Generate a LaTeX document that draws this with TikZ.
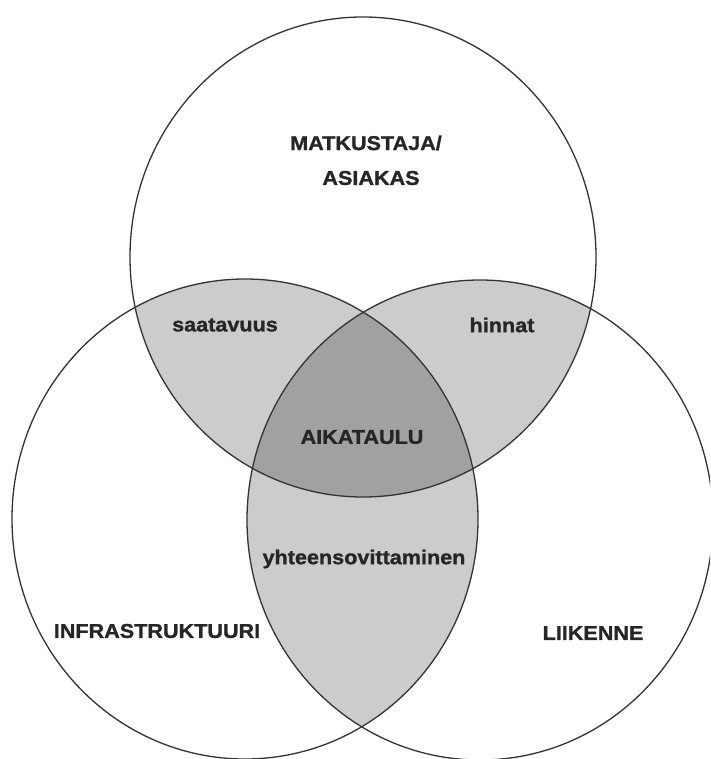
\documentclass[tikz,border=0pt]{standalone}
\usepackage{fontspec}
\newfontfamily\labelfont[FakeStretch=1.08,FakeBold=1.2]{Liberation Sans Bold}
\begin{document}
\begin{tikzpicture}[x=1pt,y=-1pt,
  ring/.style={draw=black!80,line width=1.3pt},
  pairfill/.style={fill=black!20},
  corefill/.style={fill=black!37},
  lbl/.style={font=\labelfont\fontsize{20}{24}\selectfont,text=black!85,inner sep=0pt,align=center}]
  \useasboundingbox (0,0) rectangle (710,759);
  \clip (0,0) rectangle (710,759);
  \fill[white] (0,0) rectangle (710,759);
  % centres of the three sets
  \coordinate (T) at (363,257);
  \coordinate (L) at (245,519);
  \coordinate (R) at (480,520);
  \def\rx{233pt}\def\ry{240pt}
  % pairwise overlaps
  \begin{scope}
    \clip (T) ellipse [x radius=\rx,y radius=\ry];
    \fill[pairfill] (L) ellipse [x radius=\rx,y radius=\ry];
    \fill[pairfill] (R) ellipse [x radius=\rx,y radius=\ry];
  \end{scope}
  \begin{scope}
    \clip (L) ellipse [x radius=\rx,y radius=\ry];
    \fill[pairfill] (R) ellipse [x radius=\rx,y radius=\ry];
  \end{scope}
  % common core
  \begin{scope}
    \clip (T) ellipse [x radius=\rx,y radius=\ry];
    \clip (L) ellipse [x radius=\rx,y radius=\ry];
    \fill[corefill] (R) ellipse [x radius=\rx,y radius=\ry];
  \end{scope}
  % outlines
  \draw[ring] (T) ellipse [x radius=\rx,y radius=\ry];
  \draw[ring] (L) ellipse [x radius=\rx,y radius=\ry];
  \draw[ring] (R) ellipse [x radius=\rx,y radius=\ry];
  % labels
  \node[lbl] (matk) at (366,143) {MATKUSTAJA/};
  \node[lbl] (asia) at (371,178) {ASIAKAS};
  \node[lbl] (saat) at (225,325) {saatavuus};
  \node[lbl] (hinn) at (502,325) {hinnat};
  \node[lbl] (aika) at (362,437) {AIKATAULU};
  \node[lbl] (yhte) at (364,559) {yhteensovittaminen};
  \node[lbl] (infra) at (157,631) {INFRASTRUKTUURI};
  \node[lbl] (liik) at (593,633) {LIIKENNE};
\end{tikzpicture}
\end{document}
